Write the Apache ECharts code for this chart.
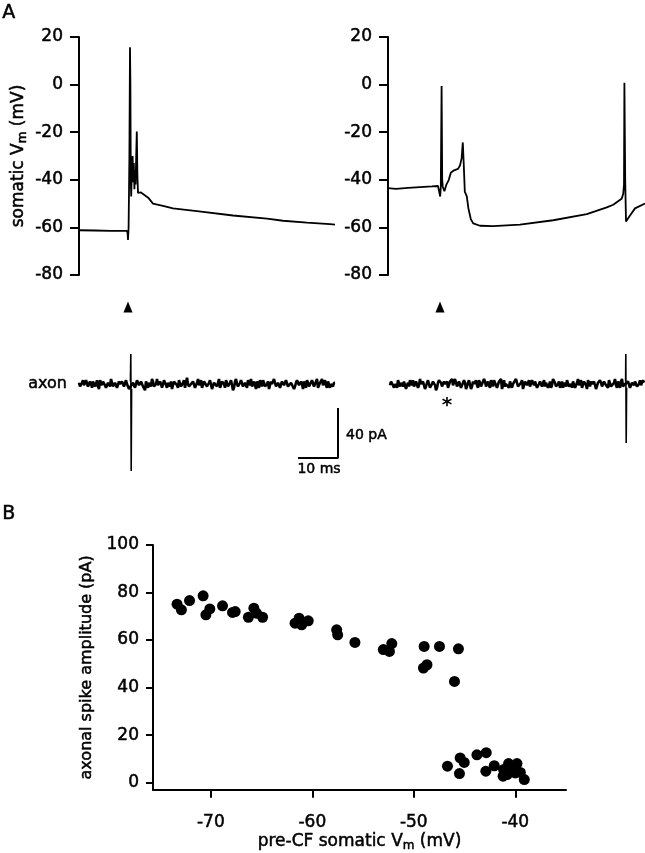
<!DOCTYPE html>
<html>
<head>
<meta charset="utf-8">
<script src="https://cdn.jsdelivr.net/npm/echarts@6/dist/echarts.min.js"></script>
<style>html,body{margin:0;padding:0;background:#fff}#c{width:645px;height:853px}</style>
</head>
<body>
<div id="c"></div>
<script>
// ---------- DATA ----------
// Panel A, somatic Vm traces: [time (ms), Vm (mV)]
const somaLeft = [[0,-61.2],[4,-61.3],[8,-61.5],[12,-61.5],[12.15,-62.5],[12.25,-65.3],[12.4,-60],[12.6,-30],[12.75,15.7],[12.85,0],[12.95,-40],[13.05,-47],[13.25,-33],[13.4,-30],[13.55,-41],[13.7,-33],[13.85,-44],[14.0,-36],[14.15,-42],[14.3,-30],[14.45,-19.7],[14.6,-38],[14.75,-45.5],[15.5,-45.3],[16.0,-45.2],[17.3,-47.5],[18.5,-50],[21,-51],[23.5,-52],[30,-53.3],[38.5,-55],[47,-56.3],[51,-57.2],[57,-58],[62.75,-58.6],[64,-58.8]];
const somaRight = [[0,-43.5],[2,-43.8],[5,-43.4],[8,-43.1],[11,-42.8],[12.5,-42.6],[12.9,-43.2],[13.05,-47],[13.2,-43],[13.4,-0.6],[13.55,-40],[13.7,-43],[14.1,-44.8],[14.6,-42],[15.2,-40],[15.7,-37],[16.5,-36],[17.5,-35.4],[18.0,-34],[18.4,-31],[18.7,-24.3],[18.95,-34],[19.2,-45],[19.7,-47],[20.1,-52],[20.7,-56.5],[21.3,-58.3],[23,-59.3],[26.3,-59.5],[33,-58.8],[41.3,-57],[49.7,-54.4],[54.7,-51.6],[56.3,-50.5],[58.4,-48],[58.8,-46],[59.0,-42],[59.1,0.8],[59.3,-40],[59.5,-57.5],[60.5,-55],[61.75,-52],[64.25,-50]];
// Panel A, axonal current noise (pA); "even" samples every 0.5 ms from start, "odd" samples offset by 0.25 ms
const axonLeftEven = [1,-2,3,-1,2,-3,0,2,-2,3,-4,1,2,-1,-3,2,4,-2,1,-3,2,-1,3,-2,0,-4,2,1,-3,3,-1,2,-2,-5,3,1,-2,2,-3,4,-1,0,-2,3,-3,1,2,-4,2,-1,3,-2,1,-3,5,-2,0,2,-3,1,-1,3,-4,2,-2,1,3,-3,0,-2,4,-1,2,-3,1,-2,3,-5,2,0,-1,3,-2,1,-3,2,4,-2,-1,2,-3,1,3,-2,0,-4,2,-1,3,-2,1,-3,2,-1,4,-3,1,0,-2,3,-1,2,-4,1,3,-2,-1,2,-3,4,-2,1,-1,3,-3,2,0,-2,1];
const axonLeftOdd = [-2,1,-1,3,-2,2,-3,1,0,-2,3,-1,2,-3,1,-2,4,-1,2,-3,0,2,-2,3,-1,-3,1,2,-4,1,-2,3,-1,2,-3,1,4,-2,0,-1,2,-3,3,-1,1,-2,-4,2,1,-3,2,-1,3,-2,0,-3,1,2,-2,4,-1,-3,2,1,-2,3,-4,1,2,-1,-3,2,0,3,-2,1,-1,-3,4,-2,1,2,-3,0,3,-1,-2,2,-4,1,3,-2,1,-1,2,-3,0,4,-2,1,-3,2,-1,3,-2,-1,2,-4,1,3,-2,0,2,-3,1,-1,3,-2,2,-3,1,4,-2,-1,2,-3,0,1];
const axonRightEven = [-1,2,-3,1,3,-2,0,2,-4,1,3,-1,-2,2,-3,4,-1,1,-2,3,-3,0,2,-5,1,3,-2,2,-1,-3,2,4,-2,1,-3,2,-1,3,-4,1,2,-2,0,3,-3,1,-1,4,-2,2,-3,1,3,-1,-2,2,-4,3,0,-1,2,-3,1,4,-2,-1,3,-3,2,0,-2,3,-1,1,-4,2,-2,3,1,-3,2,-1,5,-2,0,-3,2,1,-2,3,-1,-3,2,-2,4,1,-3,2,-1,3,-2,0,2,-4,1,3,-2,2,-1,-3,3,-2,1,-1,2,-3,4,-2,0,2,-3,1,-1,2,-2,3,-1,1];
const axonRightOdd = [2,-1,0,-3,2,1,-2,3,-1,-2,1,3,-3,2,-1,0,2,-4,1,3,-2,2,-1,-3,3,1,-2,0,2,-3,1,-1,4,-2,2,-3,0,1,-2,3,-4,2,1,-1,3,-2,-3,2,0,-1,3,-2,1,-3,2,4,-1,-2,1,-3,2,0,-1,3,-2,1,-4,2,-1,3,-2,1,2,-3,0,3,-1,-2,2,-1,-3,4,1,-2,2,-1,-3,1,3,-2,0,2,-3,1,-1,3,-2,2,-4,1,2,-1,3,-3,0,1,-2,2,-1,3,-2,-1,4,-3,1,2,-2,0,-1,3,-3,1,2,-2,0,-1,3];
const axonLeftStart = 0, axonRightStart = 0.5, axonStep = 0.5;
const axonLeftSpike = [[12.85,2],[12.95,24],[13.05,-69.6],[13.15,-4]];
const axonRightSpike = [[59.4,2],[59.45,24],[59.55,-47.2],[59.65,-3]];
const stimLeft = [[12.25,61.6]], stimRight = [[13,61.6]];
const asterisk = [[14.75,-14.4]];
const scaleBar = [[54.75,-59.2],[64.75,-59.2],[64.75,-19.2]];
const somaticTicks = [-80,-60,-40,-20,0,20];
// Panel B: [pre-CF somatic Vm (mV), axonal spike amplitude (pA)]
const scatterPts = [[-73.33,75.1],[-72.9,72.7],[-72.1,76.6],[-70.76,78.6],[-70.49,70.6],[-70.1,73.1],[-68.85,74.4],[-67.86,71.6],[-67.6,72.0],[-66.3,69.6],[-65.76,73.4],[-65.5,71.3],[-64.9,69.6],[-61.7,67.1],[-61.3,69.2],[-61.05,66.4],[-60.4,68.1],[-57.6,64.3],[-57.5,62.2],
[-55.8,59.0],[-53.0,56.0],[-52.4,55.2],[-52.17,58.5],[-48.98,57.3],[-47.47,57.3],[-45.6,56.3],[-49.05,48.2],[-48.7,49.6],[-45.99,42.6],
[-46.68,6.9],[-45.43,10.4],[-45.03,8.5],[-45.5,3.8],[-43.78,11.7],[-42.86,12.6],[-42.9,4.8],[-42.07,7.1],[-41.15,5.5],[-41.2,2.7],[-40.66,8.0],[-40.3,4.8],[-39.83,8.0],[-40.0,4.1],[-39.5,4.3],[-39.11,1.3],[-40.8,3.4],[-40.17,6.2]];
const ampTicks = [0,20,40,60,80,100];
const vmTicks = [-70,-60,-50,-40];

// ---------- BUILD ----------
function buildNoise(even, odd, start, spike){
  const pts = [];
  const lo = spike[0][0]-0.12, hi = spike[spike.length-1][0]+0.12;
  const add = (t,v) => { if (t<lo || t>hi) pts.push([t,v]); };
  even.forEach((v,i)=>add(start + i*axonStep, v));
  odd.forEach((v,i)=>add(start + axonStep/2 + i*axonStep, v));
  pts.sort((a,b)=>a[0]-b[0]);
  return pts;
}
const FF = 'DejaVu Sans';
const K = '#000';
const BW = 0.5; // slight stroke to thicken text like the scanned original
const chart = echarts.init(document.getElementById('c'), null, {renderer:'canvas'});
const subRich = {
  a:{fontSize:17, fontFamily:FF, color:K, lineHeight:20, textBorderColor:K, textBorderWidth:BW},
  s:{fontSize:12, fontFamily:FF, color:K, verticalAlign:'bottom', lineHeight:12, textBorderColor:K, textBorderWidth:BW}
};
const lbl = (margin, vals) => ({show:true, color:K, fontSize:17, fontFamily:FF, margin:margin, customValues: vals, textBorderColor:K, textBorderWidth:BW});
const somaY = (idx, withName) => ({
  gridIndex: idx, type:'value', min:-80, max:20, interval:20,
  axisLine:{show:true, lineStyle:{color:K, width:2}},
  axisTick:{show:true, inside:false, length:9, lineStyle:{color:K, width:2}},
  axisLabel: lbl(16, somaticTicks),
  splitLine:{show:false},
  name: withName ? '{a|somatic V}{s|m}{a| (mV)}' : '',
  nameLocation:'middle', nameRotate:90, nameGap:50,
  nameTextStyle:{color:K, rich:subRich}
});
const option = {
  animation:false,
  backgroundColor:'#fff',
  textStyle:{fontFamily:FF},
  grid:[
    {left:79, top:37, width:256, height:238},
    {left:388, top:37, width:257, height:238},
    {left:79, top:296.5, width:266, height:187.5},
    {left:388, top:296.5, width:257, height:187.5},
    {left:153, top:545, width:413, height:245}
  ],
  xAxis:[
    {gridIndex:0, type:'value', min:0, max:64, show:false},
    {gridIndex:1, type:'value', min:0, max:64.25, show:false},
    {gridIndex:2, type:'value', min:0, max:66.5, show:false},
    {gridIndex:3, type:'value', min:0, max:64.25, show:false},
    {gridIndex:4, type:'value', min:-75.7, max:-35,
      axisLine:{show:true, onZero:false, lineStyle:{color:K, width:2}},
      axisTick:{show:true, length:8, lineStyle:{color:K, width:2}, customValues: vmTicks},
      axisLabel: lbl(24, vmTicks),
      splitLine:{show:false},
      name:'{a|pre-CF somatic V}{s|m}{a| (mV)}', nameLocation:'middle', nameGap:42,
      nameTextStyle:{color:K, rich:subRich}
    }
  ],
  yAxis:[
    somaY(0,true),
    somaY(1,false),
    {gridIndex:2, type:'value', min:-80, max:70, show:false},
    {gridIndex:3, type:'value', min:-80, max:70, show:false},
    {gridIndex:4, type:'value', min:-3, max:100,
      axisLine:{show:true, lineStyle:{color:K, width:2}},
      axisTick:{show:true, length:7, lineStyle:{color:K, width:2}, customValues: ampTicks},
      axisLabel: lbl(14, ampTicks),
      splitLine:{show:false},
      name:'axonal spike amplitude (pA)', nameLocation:'middle', nameRotate:90, nameGap:56,
      nameTextStyle:{color:K, fontSize:16, fontFamily:FF, textBorderColor:K, textBorderWidth:BW}
    }
  ],
  series:[
    {type:'line', xAxisIndex:0, yAxisIndex:0, data:somaLeft, showSymbol:false, lineStyle:{color:K, width:1.8}, clip:false},
    {type:'line', xAxisIndex:1, yAxisIndex:1, data:somaRight, showSymbol:false, lineStyle:{color:K, width:1.8}, clip:false},
    {type:'line', xAxisIndex:2, yAxisIndex:2, data:buildNoise(axonLeftEven, axonLeftOdd, axonLeftStart, axonLeftSpike), showSymbol:false, lineStyle:{color:K, width:2.6}, clip:false},
    {type:'line', xAxisIndex:3, yAxisIndex:3, data:buildNoise(axonRightEven, axonRightOdd, axonRightStart, axonRightSpike), showSymbol:false, lineStyle:{color:K, width:2.6}, clip:false},
    {type:'line', xAxisIndex:2, yAxisIndex:2, data:axonLeftSpike, showSymbol:false, lineStyle:{color:K, width:1.6}, clip:false},
    {type:'line', xAxisIndex:3, yAxisIndex:3, data:axonRightSpike, showSymbol:false, lineStyle:{color:K, width:1.6}, clip:false},
    {type:'line', xAxisIndex:2, yAxisIndex:2, data:scaleBar, showSymbol:false, lineStyle:{color:K, width:2}, clip:false},
    {type:'scatter', xAxisIndex:2, yAxisIndex:2, data:stimLeft, symbol:'triangle', symbolSize:[9,11], itemStyle:{color:K, opacity:1}, clip:false},
    {type:'scatter', xAxisIndex:3, yAxisIndex:3, data:stimRight, symbol:'triangle', symbolSize:[9,11], itemStyle:{color:K, opacity:1}, clip:false},
    {type:'scatter', xAxisIndex:3, yAxisIndex:3, data:asterisk, symbol:'circle', symbolSize:2, itemStyle:{color:'rgba(0,0,0,0)', opacity:1},
      label:{show:true, formatter:'*', position:'inside', color:K, fontSize:20, fontFamily:FF, fontWeight:'bold', offset:[0,4]}, clip:false},
    {type:'scatter', xAxisIndex:4, yAxisIndex:4, data:scatterPts, symbol:'circle', symbolSize:11, itemStyle:{color:K, opacity:1}}
  ],
  graphic:[
    {type:'text', left:2, top:3, style:{text:'A', fontSize:19, fontFamily:FF, fill:K, stroke:K, lineWidth:BW}},
    {type:'text', left:2, top:504, style:{text:'B', fontSize:19, fontFamily:FF, fill:K, stroke:K, lineWidth:BW}},
    {type:'text', x:67, y:384, style:{text:'axon', fontSize:16, fontFamily:FF, fill:K, align:'right', verticalAlign:'middle', stroke:K, lineWidth:BW}},
    {type:'text', x:346, y:435, style:{text:'40 pA', fontSize:14, fontFamily:FF, fill:K, align:'left', verticalAlign:'middle', stroke:K, lineWidth:BW}},
    {type:'text', x:319, y:469, style:{text:'10 ms', fontSize:14, fontFamily:FF, fill:K, align:'center', verticalAlign:'middle', stroke:K, lineWidth:BW}}
  ]
};
chart.setOption(option);
</script>
</body>
</html>
